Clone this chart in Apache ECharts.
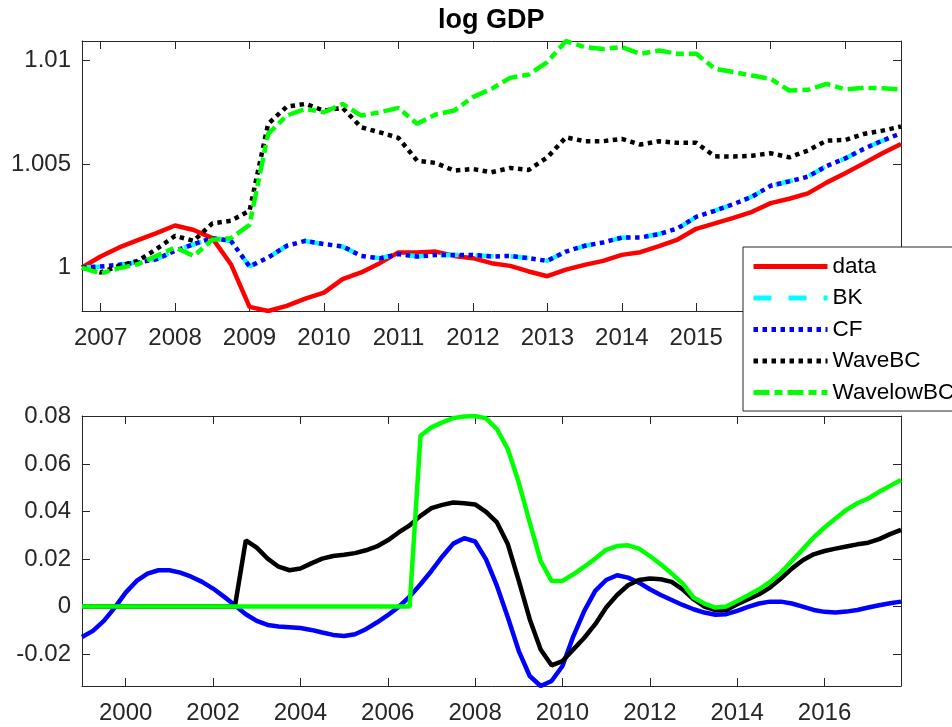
<!DOCTYPE html>
<html>
<head>
<meta charset="utf-8">
<title>log GDP</title>
<script src="https://cdn.jsdelivr.net/npm/echarts@6/dist/echarts.min.js"></script>
<style>
  html, body { margin: 0; padding: 0; background: #fff; }
  #main { width: 952px; height: 727px; }
</style>
</head>
<body>
<div id="main"></div>
<script>
// quarters for the upper panel (2006Q4 .. 2017Q4)
const topQuarters = [2006.75,
  2007, 2007.25, 2007.5, 2007.75, 2008, 2008.25, 2008.5, 2008.75,
  2009, 2009.25, 2009.5, 2009.75, 2010, 2010.25, 2010.5, 2010.75,
  2011, 2011.25, 2011.5, 2011.75, 2012, 2012.25, 2012.5, 2012.75,
  2013, 2013.25, 2013.5, 2013.75, 2014, 2014.25, 2014.5, 2014.75,
  2015, 2015.25, 2015.5, 2015.75, 2016, 2016.25, 2016.5, 2016.75,
  2017, 2017.25, 2017.5, 2017.75]

const dataGdp = [1.0,
  1.00053, 1.00097, 1.00132, 1.00166, 1.00203, 1.00181, 1.00142, 1.00016,
  0.99810, 0.99790, 0.99815, 0.99850, 0.99879, 0.99944, 0.99976, 1.00021,
  1.00073, 1.00073, 1.00077, 1.00056, 1.00045, 1.00021, 1.00008, 0.99981,
  0.99958, 0.99990, 1.00013, 1.00032, 1.00061, 1.00074, 1.00103, 1.00135,
  1.00187, 1.00213, 1.00240, 1.00269, 1.00311, 1.00332, 1.00358, 1.00410,
  1.00455, 1.00503, 1.00552, 1.00597]

const bkGdp = [1.0,
  1.00004, 1.00014, 1.00025, 1.00041, 1.00080, 1.00112, 1.00141, 1.00128,
  1.00006, 1.00049, 1.00104, 1.00128, 1.00112, 1.00101, 1.00057, 1.00045,
  1.00064, 1.00054, 1.00059, 1.00061, 1.00060, 1.00054, 1.00055, 1.00046,
  1.00033, 1.00076, 1.00104, 1.00122, 1.00144, 1.00146, 1.00162, 1.00188,
  1.00244, 1.00275, 1.00305, 1.00343, 1.00394, 1.00417, 1.00438, 1.00491,
  1.00526, 1.00574, 1.00612, 1.00649]

const cfGdp = [1.0,
  1.00005, 1.00013, 1.00024, 1.00040, 1.00081, 1.00113, 1.00142, 1.00129,
  1.00005, 1.00048, 1.00105, 1.00129, 1.00113, 1.00102, 1.00056, 1.00044,
  1.00065, 1.00053, 1.00060, 1.00060, 1.00061, 1.00053, 1.00056, 1.00045,
  1.00032, 1.00077, 1.00105, 1.00121, 1.00145, 1.00145, 1.00161, 1.00189,
  1.00245, 1.00274, 1.00306, 1.00342, 1.00395, 1.00416, 1.00439, 1.00490,
  1.00527, 1.00573, 1.00613, 1.00648]

const waveGdp = [1.0,
  0.99976, 1.00008, 1.00032, 1.00089, 1.00153, 1.00129, 1.00213, 1.00226,
  1.00274, 1.00694, 1.00777, 1.00790, 1.00758, 1.00771, 1.00677, 1.00653,
  1.00626, 1.00516, 1.00505, 1.00468, 1.00476, 1.00460, 1.00481, 1.00471,
  1.00532, 1.00629, 1.00610, 1.00610, 1.00621, 1.00594, 1.00610, 1.00602,
  1.00602, 1.00537, 1.00536, 1.00540, 1.00552, 1.00532, 1.00565, 1.00613,
  1.00616, 1.00645, 1.00661, 1.00681]

const waveLowGdp = [1.0,
  0.99971, 0.99997, 1.00016, 1.00056, 1.00097, 1.00056, 1.00134, 1.00142,
  1.00206, 1.00645, 1.00734, 1.00766, 1.00750, 1.00790, 1.00734, 1.00750,
  1.00771, 1.00694, 1.00739, 1.00758, 1.00823, 1.00863, 1.00916, 1.00932,
  1.00992, 1.01094, 1.01065, 1.01055, 1.01065, 1.01032, 1.01048, 1.01032,
  1.01032, 1.00960, 1.00944, 1.00927, 1.00911, 1.00855, 1.00858, 1.00887,
  1.00860, 1.00868, 1.00866, 1.00860]

// quarters for the lower panel (1999Q1 .. 2017Q4)
const bottomQuarters = [
  1999, 1999.25, 1999.5, 1999.75, 2000, 2000.25, 2000.5, 2000.75,
  2001, 2001.25, 2001.5, 2001.75, 2002, 2002.25, 2002.5, 2002.75,
  2003, 2003.25, 2003.5, 2003.75, 2004, 2004.25, 2004.5, 2004.75,
  2005, 2005.25, 2005.5, 2005.75, 2006, 2006.25, 2006.5, 2006.75,
  2007, 2007.25, 2007.5, 2007.75, 2008, 2008.25, 2008.5, 2008.75,
  2009, 2009.25, 2009.5, 2009.75, 2010, 2010.25, 2010.5, 2010.75,
  2011, 2011.25, 2011.5, 2011.75, 2012, 2012.25, 2012.5, 2012.75,
  2013, 2013.25, 2013.5, 2013.75, 2014, 2014.25, 2014.5, 2014.75,
  2015, 2015.25, 2015.5, 2015.75, 2016, 2016.25, 2016.5, 2016.75,
  2017, 2017.25, 2017.5, 2017.75]

const cfCycle = [
  -0.0128, -0.0102, -0.0060, -0.0004, 0.0059, 0.0108, 0.0139, 0.0153,
  0.0153, 0.0143, 0.0126, 0.0104, 0.0076, 0.0042, 0.0006, -0.0032,
  -0.0060, -0.0077, -0.0084, -0.0087, -0.0090, -0.0098, -0.0109, -0.0119,
  -0.0124, -0.0116, -0.0095, -0.0067, -0.0036, -0.0001, 0.0042, 0.0094,
  0.0150, 0.0211, 0.0265, 0.0288, 0.0274, 0.0199, 0.0087, -0.0046,
  -0.0187, -0.0292, -0.0334, -0.0313, -0.0250, -0.0124, -0.0018, 0.0066,
  0.0112, 0.0132, 0.0122, 0.0101, 0.0073, 0.0049, 0.0028, 0.0007,
  -0.0011, -0.0025, -0.0034, -0.0032, -0.0018, -0.0001, 0.0013, 0.0021,
  0.0021, 0.0013, 0.0000, -0.0014, -0.0022, -0.0025, -0.0021, -0.0014,
  -0.0004, 0.0006, 0.0014, 0.0021]

const waveCycle = [
  0, 0, 0, 0, 0, 0, 0, 0,
  0, 0, 0, 0, 0, 0, 0, 0.0279,
  0.0248, 0.0202, 0.0168, 0.0153, 0.0160, 0.0182, 0.0202, 0.0213,
  0.0218, 0.0225, 0.0237, 0.0253, 0.0279, 0.0312, 0.0342, 0.0382,
  0.0414, 0.0428, 0.0438, 0.0435, 0.0430, 0.0399, 0.0354, 0.0262,
  0.0108, -0.0053, -0.0180, -0.0247, -0.0229, -0.0180, -0.0131, -0.0074,
  -0.0004, 0.0049, 0.0090, 0.0112, 0.0118, 0.0115, 0.0104, 0.0073,
  0.0031, 0.0000, -0.0015, -0.0014, 0.0010, 0.0031, 0.0052, 0.0080,
  0.0118, 0.0160, 0.0195, 0.0220, 0.0234, 0.0244, 0.0253, 0.0262,
  0.0269, 0.0284, 0.0305, 0.0323]

const waveLowCycle = [
  0, 0, 0, 0, 0, 0, 0, 0,
  0, 0, 0, 0, 0, 0, 0, 0,
  0, 0, 0, 0, 0, 0, 0, 0,
  0, 0, 0, 0, 0, 0, 0, 0.0719,
  0.0754, 0.0775, 0.0793, 0.0800, 0.0802, 0.0792, 0.0747, 0.0662,
  0.0522, 0.0354, 0.0192, 0.0108, 0.0108, 0.0136, 0.0168, 0.0202,
  0.0239, 0.0255, 0.0258, 0.0244, 0.0213, 0.0178, 0.0139, 0.0098,
  0.0038, 0.0013, -0.0004, 0.0000, 0.0024, 0.0048, 0.0073, 0.0104,
  0.0143, 0.0192, 0.0241, 0.0291, 0.0333, 0.0371, 0.0407, 0.0435,
  0.0455, 0.0483, 0.0508, 0.0533]

const topXTicks = [2007, 2008, 2009, 2010, 2011, 2012, 2013, 2014, 2015, 2016, 2017]
const topYTicks = [1, 1.005, 1.01]
const bottomXTicks = [2000, 2002, 2004, 2006, 2008, 2010, 2012, 2014, 2016]
const bottomYTicks = [-0.02, 0, 0.02, 0.04, 0.06, 0.08]

const FONT = '"Liberation Sans", Arial, Helvetica, sans-serif'
const AXIS_COLOR = '#262626'

function pairs (xs, ys) {
  return xs.map(function (x, i) { return [x, ys[i]] })
}

// one axis of the matlab-style box; labels only on left/bottom
function boxAxis (gridIndex, position, min, max, ticks, showLabel) {
  return {
    type: 'value',
    gridIndex: gridIndex,
    position: position,
    min: min,
    max: max,
    axisLine: { show: true, onZero: false, lineStyle: { color: AXIS_COLOR, width: 1 } },
    axisTick: { show: true, inside: true, length: 8, customValues: ticks, lineStyle: { color: AXIS_COLOR, width: 1 } },
    axisLabel: {
      show: showLabel,
      customValues: ticks,
      formatter: function (v) { return String(v) },
      color: AXIS_COLOR,
      fontFamily: FONT,
      fontSize: 24,
      margin: (position === 'left' || position === 'right') ? 11 : 15
    },
    splitLine: { show: false }
  }
}

function lineSeries (name, xi, yi, xs, ys, color, type) {
  return {
    name: name,
    type: 'line',
    xAxisIndex: xi,
    yAxisIndex: yi,
    data: pairs(xs, ys),
    symbol: 'none',
    showSymbol: false,
    lineStyle: { color: color, width: 4.5, type: type || 'solid' },
    itemStyle: { color: color },
    emphasis: { disabled: true }
  }
}

const chart = echarts.init(document.getElementById('main'), null, { renderer: 'canvas' })

const option = {
  animation: false,
  backgroundColor: '#ffffff',
  title: {
    text: 'log GDP',
    left: 438,
    top: 7,
    padding: 0,
    textStyle: { fontFamily: FONT, fontSize: 27, fontWeight: 'bold', color: '#000' }
  },
  legend: {
    orient: 'vertical',
    left: 743,
    top: 247,
    padding: [8, 30, 7, 8],
    itemWidth: 74,
    itemHeight: 22,
    itemGap: 8.5,
    backgroundColor: '#ffffff',
    borderColor: AXIS_COLOR,
    borderWidth: 1,
    borderRadius: 0,
    itemStyle: { opacity: 0 },
    lineStyle: { width: 5 },
    textStyle: { fontFamily: FONT, fontSize: 22.5, lineHeight: 22, color: '#000' },
    data: ['data', 'BK', 'CF', 'WaveBC', 'WavelowBC'],
    selectedMode: false
  },
  grid: [
    { left: 82, top: 41, width: 819, height: 270, containLabel: false },
    { left: 82, top: 416, width: 819, height: 270, containLabel: false }
  ],
  xAxis: [
    boxAxis(0, 'bottom', 2006.75, 2017.75, topXTicks, true),
    boxAxis(0, 'top', 2006.75, 2017.75, topXTicks, false),
    boxAxis(1, 'bottom', 1999, 2017.75, bottomXTicks, true),
    boxAxis(1, 'top', 1999, 2017.75, bottomXTicks, false)
  ],
  yAxis: [
    boxAxis(0, 'left', 0.9979, 1.01094, topYTicks, true),
    boxAxis(0, 'right', 0.9979, 1.01094, topYTicks, false),
    boxAxis(1, 'left', -0.0334, 0.0802, bottomYTicks, true),
    boxAxis(1, 'right', -0.0334, 0.0802, bottomYTicks, false)
  ],
  series: [
    lineSeries('data', 0, 0, topQuarters, dataGdp, '#ff0000', 'solid'),
    lineSeries('BK', 0, 0, topQuarters, bkGdp, '#00ffff', [18, 17]),
    lineSeries('CF', 0, 0, topQuarters, cfGdp, '#0000ff', [4.5, 4.5]),
    lineSeries('WaveBC', 0, 0, topQuarters, waveGdp, '#000000', [4.5, 4.5]),
    lineSeries('WavelowBC', 0, 0, topQuarters, waveLowGdp, '#00ff00', [16, 5, 8, 5]),
    lineSeries('CF cycle', 2, 2, bottomQuarters, cfCycle, '#0000ff', 'solid'),
    lineSeries('WaveBC cycle', 2, 2, bottomQuarters, waveCycle, '#000000', 'solid'),
    lineSeries('WavelowBC cycle', 2, 2, bottomQuarters, waveLowCycle, '#00ff00', 'solid')
  ]
}

chart.setOption(option)
</script>
</body>
</html>
